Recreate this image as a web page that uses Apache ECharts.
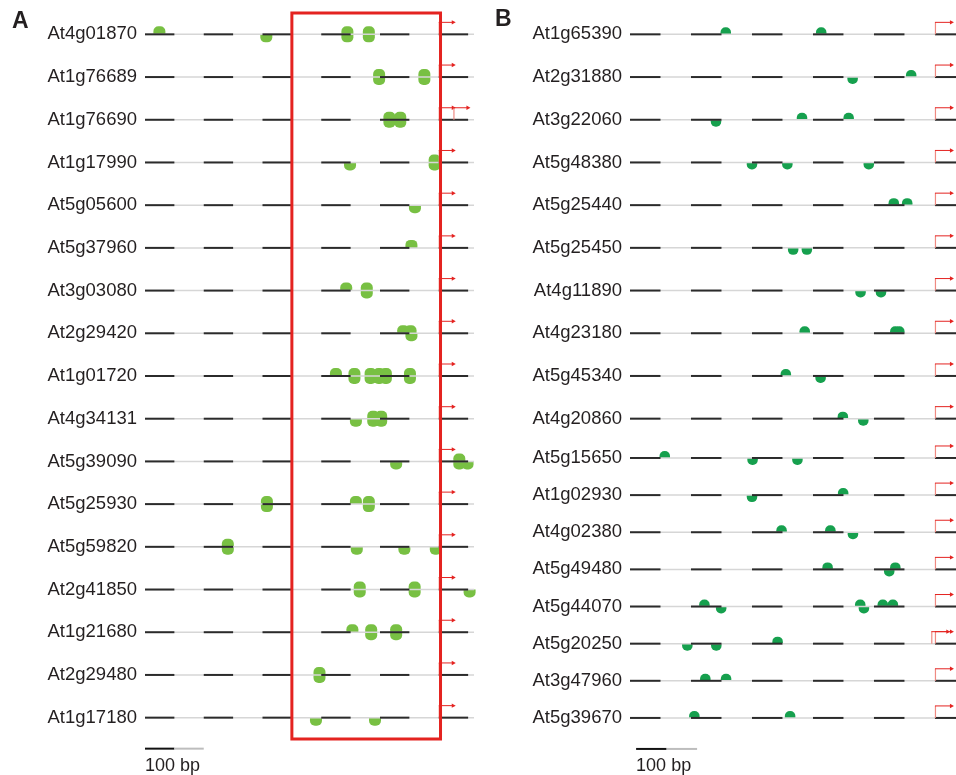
<!DOCTYPE html>
<html>
<head>
<meta charset="utf-8">
<title>Promoter motifs</title>
<script src="https://cdn.jsdelivr.net/npm/echarts@6.0.0/dist/echarts.min.js"></script>
<style>
  html, body { margin: 0; padding: 0; background: #fff; }
  #chart { width: 956px; height: 775px; }
</style>
</head>
<body>
<div id="chart"></div>
<script>
// genes, top to bottom
const genesA = ['At4g01870', 'At1g76689', 'At1g76690', 'At1g17990', 'At5g05600', 'At5g37960',
  'At3g03080', 'At2g29420', 'At1g01720', 'At4g34131', 'At5g39090', 'At5g25930', 'At5g59820',
  'At2g41850', 'At1g21680', 'At2g29480', 'At1g17180']
const genesB = ['At1g65390', 'At2g31880', 'At3g22060', 'At5g48380', 'At5g25440', 'At5g25450',
  'At4g11890', 'At4g23180', 'At5g45340', 'At4g20860', 'At5g15650', 'At1g02930', 'At4g02380',
  'At5g49480', 'At5g44070', 'At5g20250', 'At3g47960', 'At5g39670']

// motif hits: [gene row, position (bp from TSS), strand]  1 = top, -1 = bottom, 2 = both
const motifsA = [
  [0, -951, 1], [0, -587, -1], [0, -311, 2], [0, -238, 2],
  [1, -203, 2], [1, -49, 2],
  [2, -168, 2], [2, -131, 2],
  [3, -302, -1], [3, -14, 2],
  [4, -81, -1],
  [5, -93, 1],
  [6, -315, 1], [6, -245, 2],
  [7, -121, 1], [7, -96, 1], [7, -93, -1],
  [8, -350, 1], [8, -287, 2], [8, -232, 2], [8, -203, 2], [8, -180, 2], [8, -98, 2],
  [9, -282, -1], [9, -223, 2], [9, -196, 2],
  [10, -145, -1], [10, 70, 2], [10, 98, -1],
  [11, -585, 2], [11, -282, 1], [11, -238, 2],
  [12, -718, 2], [12, -279, -1], [12, -117, -1], [12, -10, -1],
  [13, -269, 2], [13, -82, 2], [13, 105, -1],
  [14, -294, 1], [14, -230, 2], [14, -145, 2],
  [15, -406, 2],
  [16, -418, -1], [16, -217, -1]
]
const motifsB = [
  [0, -686, 1], [0, -373, 1],
  [1, -270, -1], [1, -78, 1],
  [2, -718, -1], [2, -436, 1], [2, -283, 1],
  [3, -600, -1], [3, -484, -1], [3, -217, -1],
  [4, -135, 1], [4, -91, 1],
  [5, -465, -1], [5, -420, -1],
  [6, -244, -1], [6, -177, -1],
  [7, -427, 1], [7, -130, 1], [7, -117, 1],
  [8, -489, 1], [8, -375, -1],
  [9, -302, 1], [9, -235, -1],
  [10, -886, 1], [10, -598, -1], [10, -451, -1],
  [11, -600, -1], [11, -301, 1],
  [12, -503, 1], [12, -343, 1], [12, -269, -1],
  [13, -352, 1], [13, -150, -1], [13, -130, 1],
  [14, -756, 1], [14, -701, -1], [14, -245, 1], [14, -233, -1], [14, -171, 1], [14, -138, 1],
  [15, -812, -1], [15, -717, -1], [15, -516, 1],
  [16, -753, 1], [16, -685, 1],
  [17, -789, 1], [17, -475, 1]
]

// transcription start sites: every gene at 0, plus the extra ones
const extraTssA = [[2, 50]]
const extraTssB = [[15, -12]]

// alternating 100 bp blocks of the promoter line
const blackSegments = [[-1000, -900], [-800, -700], [-600, -500], [-400, -300], [-200, -100], [0, 100]]
// highlighted region in panel A
const boxA = [[-500, 6]]
// scale bars (100 bp black + 100 bp grey)
const scaleA = [[-1000, -900, 0], [-900, -800, 1]]
const scaleB = [[-980, -880, 0], [-880, -780, 1]]

const FONT = 'Liberation Sans, Arial, Helvetica, sans-serif'
const RED = '#e42320'
const SPLIT_B = 10

const chart = echarts.init(document.getElementById('chart'))

const motifRender = (st) => (params, api) => {
  const p = api.coord([api.value(1), api.value(0)])
  const s = api.value(2)
  const kids = []
  if (s === 1 || s === 2) {
    kids.push({ type: 'rect', shape: { x: p[0] - st.w / 2, y: p[1] - st.h, width: st.w, height: st.h, r: [st.r, st.r, 0, 0] }, style: { fill: st.color } })
  }
  if (s === -1 || s === 2) {
    kids.push({ type: 'rect', shape: { x: p[0] - st.w / 2, y: p[1], width: st.w, height: st.h, r: [0, 0, st.r, st.r] }, style: { fill: st.color } })
  }
  return { type: 'group', children: kids }
}

const backboneRender = (params, api) => {
  const row = api.value(0)
  const cs = params.coordSys
  const y = api.coord([0, row])[1]
  const right = cs.x + cs.width
  const kids = [{ type: 'line', shape: { x1: cs.x, y1: y, x2: right, y2: y }, style: { stroke: '#d6d6d6', lineWidth: 1.5 } }]
  blackSegments.forEach((seg) => {
    const a = api.coord([seg[0], row])[0]
    const b = Math.min(api.coord([seg[1], row])[0], right)
    kids.push({ type: 'line', shape: { x1: a, y1: y, x2: b, y2: y }, style: { stroke: '#2b2b2b', lineWidth: 2 } })
  })
  return { type: 'group', children: kids }
}

const tssRender = (len) => (params, api) => {
  const p = api.coord([api.value(1), api.value(0)])
  const top = p[1] - 12
  const end = p[0] + len
  return {
    type: 'group',
    children: [
      { type: 'line', shape: { x1: p[0] + 0.5, y1: p[1], x2: p[0] + 0.5, y2: top }, style: { stroke: '#ef8a82', lineWidth: 1.2 } },
      { type: 'line', shape: { x1: p[0], y1: top, x2: end - 3, y2: top }, style: { stroke: RED, lineWidth: 1 } },
      { type: 'polygon', shape: { points: [[end - 4, top - 2.2], [end, top], [end - 4, top + 2.2]] }, style: { fill: RED } }
    ]
  }
}

const boxRender = (params, api) => {
  const cs = params.coordSys
  const x1 = api.coord([api.value(0), 0])[0]
  const x2 = api.coord([api.value(1), 0])[0]
  return { type: 'rect', shape: { x: x1, y: cs.y, width: x2 - x1, height: cs.height }, style: { fill: 'none', stroke: RED, lineWidth: 3 } }
}

const scaleRender = (lastRow) => (params, api) => {
  const y = api.coord([0, lastRow])[1] + 31
  const a = api.coord([api.value(0), lastRow])[0]
  const b = api.coord([api.value(1), lastRow])[0]
  const kids = [{ type: 'line', shape: { x1: a, y1: y, x2: b, y2: y }, style: { stroke: api.value(2) === 0 ? '#111' : '#bdbdbd', lineWidth: 2 } }]
  if (api.value(2) === 0) {
    kids.push({ type: 'text', x: a, y: y + 17, style: { text: '100 bp', font: '18px ' + FONT, fill: '#231f20', verticalAlign: 'middle' } })
  }
  return { type: 'group', children: kids }
}

const styleA = { w: 12, h: 8, r: 5, color: '#78c043' }
const styleB = { w: 10.5, h: 7, r: 5, color: '#16a04e' }

const rowsA = genesA.map((g, i) => [i, 0])
const rowsB1 = genesB.slice(0, SPLIT_B).map((g, i) => [i, 0])
const rowsB2 = genesB.slice(SPLIT_B).map((g, i) => [i, 0])
const tssA = genesA.map((g, i) => [i, 0]).concat(extraTssA)
const tssAll = genesB.map((g, i) => [i, 0]).concat(extraTssB)
const upper = (d) => d.filter((r) => r[0] < SPLIT_B)
const lower = (d) => d.filter((r) => r[0] >= SPLIT_B).map((r) => [r[0] - SPLIT_B].concat(r.slice(1)))

const yAxisFor = (idx, names) => ({
  type: 'category',
  gridIndex: idx,
  data: names,
  inverse: true,
  axisLine: { show: false },
  axisTick: { show: false },
  splitLine: { show: false },
  axisLabel: { fontSize: 18.5, fontFamily: FONT, color: '#231f20', margin: 8 }
})
const xAxisFor = (idx, max) => ({ type: 'value', gridIndex: idx, min: -1000, max: max, show: false })

const panelSeries = (idx, rows, motifs, tss, st, len) => [
  { type: 'custom', xAxisIndex: idx, yAxisIndex: idx, z: 2, renderItem: motifRender(st), encode: { x: 1, y: 0 }, data: motifs },
  { type: 'custom', xAxisIndex: idx, yAxisIndex: idx, z: 3, renderItem: backboneRender, encode: { x: 1, y: 0 }, data: rows },
  { type: 'custom', xAxisIndex: idx, yAxisIndex: idx, z: 4, renderItem: tssRender(len), encode: { x: 1, y: 0 }, data: tss }
]

const option = {
  animation: false,
  backgroundColor: '#fff',
  grid: [
    { left: 145, top: 13, width: 329, height: 726 },
    { left: 630, top: 13, width: 326, height: 427 },
    { left: 630, top: 439.4, width: 326, height: 297.1 }
  ],
  xAxis: [xAxisFor(0, 120), xAxisFor(1, 69), xAxisFor(2, 69)],
  yAxis: [yAxisFor(0, genesA), yAxisFor(1, genesB.slice(0, SPLIT_B)), yAxisFor(2, genesB.slice(SPLIT_B))],
  graphic: [
    { type: 'text', left: 12, top: 10, style: { text: 'A', font: 'bold 23px ' + FONT, fill: '#231f20' } },
    { type: 'text', left: 495, top: 8, style: { text: 'B', font: 'bold 23px ' + FONT, fill: '#231f20' } }
  ],
  series: [
    ...panelSeries(0, rowsA, motifsA, tssA, styleA, 17),
    ...panelSeries(1, rowsB1, upper(motifsB), upper(tssAll), styleB, 19),
    ...panelSeries(2, rowsB2, lower(motifsB), lower(tssAll), styleB, 19),
    { type: 'custom', xAxisIndex: 0, yAxisIndex: 0, z: 5, renderItem: boxRender, encode: { x: [0, 1] }, data: boxA },
    { type: 'custom', xAxisIndex: 0, yAxisIndex: 0, z: 5, renderItem: scaleRender(genesA.length - 1), encode: { x: [0, 1] }, data: scaleA },
    { type: 'custom', xAxisIndex: 2, yAxisIndex: 2, z: 5, renderItem: scaleRender(genesB.length - SPLIT_B - 1), encode: { x: [0, 1] }, data: scaleB }
  ]
}

chart.setOption(option)
window.addEventListener('resize', () => chart.resize())
</script>
</body>
</html>
